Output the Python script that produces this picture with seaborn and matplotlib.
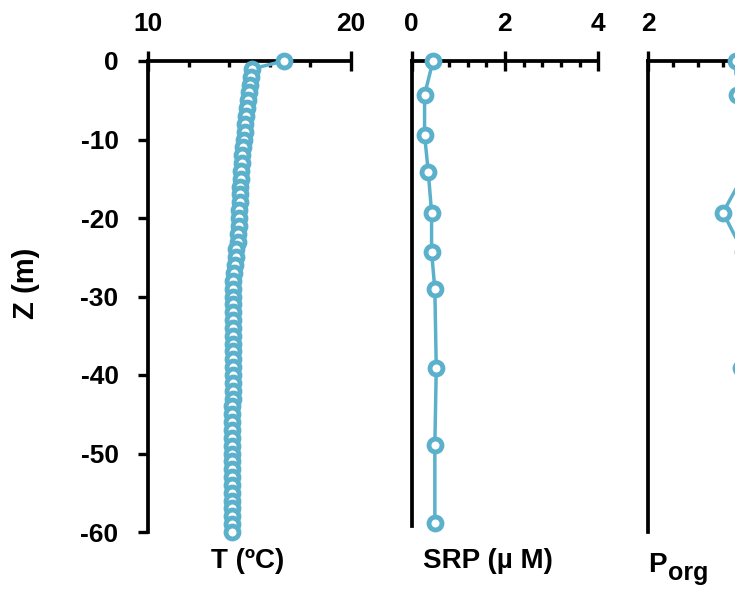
import matplotlib
matplotlib.use("Agg")
import matplotlib.pyplot as plt
import seaborn as sns
import pandas as pd
from matplotlib.ticker import MultipleLocator, FixedLocator

sns.set_style("white")
plt.rcParams["font.family"] = ["Liberation Sans", "DejaVu Sans"]
plt.rcParams["font.weight"] = "bold"
plt.rcParams["text.color"] = "black"
plt.rcParams["axes.labelcolor"] = "black"
plt.rcParams["xtick.color"] = "black"
plt.rcParams["ytick.color"] = "black"

# ---------------- data ----------------
T_depth = [0, -1, -2, -3, -4, -5, -6, -7, -8, -9, -10,
           -11, -12, -13, -14, -15, -16, -17, -18, -19, -20,
           -21, -22, -23, -24, -25, -26, -27, -28, -29, -30,
           -31, -32, -33, -34, -35, -36, -37, -38, -39, -40,
           -41, -42, -43, -44, -45, -46, -47, -48, -49, -50,
           -51, -52, -53, -54, -55, -56, -57, -58, -59, -60]
T_values = [16.70, 15.15, 15.08, 15.02, 14.97, 14.93, 14.89, 14.85, 14.81, 14.77, 14.73,
            14.69, 14.65, 14.62, 14.60, 14.58, 14.56, 14.54, 14.52, 14.51, 14.50,
            14.48, 14.46, 14.42, 14.37, 14.33, 14.30, 14.25, 14.21, 14.20, 14.20,
            14.20, 14.19, 14.19, 14.19, 14.19, 14.18, 14.18, 14.18, 14.18, 14.18,
            14.18, 14.18, 14.18, 14.17, 14.17, 14.17, 14.17, 14.17, 14.17, 14.17,
            14.17, 14.17, 14.17, 14.17, 14.17, 14.17, 14.17, 14.17, 14.17, 14.17]

SRP_depth = [0, -4.3, -9.4, -14.2, -19.3, -24.3, -29.1, -39.1, -48.9, -58.8]
SRP_values = [0.46, 0.28, 0.28, 0.36, 0.43, 0.43, 0.50, 0.53, 0.50, 0.50]

Porg_depth = [0, -4.3, -9.4, -14.2, -19.3, -24.3, -29.1, -39.1, -48.9, -58.8]
Porg_values = [3.40, 3.42, 3.60, 3.55, 3.20, 3.52, 3.65, 3.48, 3.75, 3.80]

xlabels = ["T (ºC)", "SRP (µ M)"]
porg_label = ["P", "org", "(µ M)"]
ylabel = "Z (m)"
y_ticks = [0, -10, -20, -30, -40, -50, -60]

COLOR = "#5BB1CB"
W, H = 735, 589
FS = 19
FS_LAB = 20

fig = plt.figure(figsize=(W / 100, H / 100), dpi=100)
bottom = 1 - 532 / H
height = 471 / H
ax1 = fig.add_axes([148 / W, bottom, (350.5 - 148) / W, height])
ax2 = fig.add_axes([411.5 / W, bottom, (598.3 - 411.5) / W, height])
ax3 = fig.add_axes([648 / W, bottom, 187.5 / W, height])

datasets = [
    (ax1, T_values, T_depth, (10, 20), [10, 20], 2),
    (ax2, SRP_values, SRP_depth, (0, 4), [0, 2, 4], 0.4),
    (ax3, Porg_values, Porg_depth, (2, 5), [2, 4], 0.4),
]

for ax, xv, yv, xlim, majors, minor in datasets:
    df = pd.DataFrame({"x": xv, "z": yv})
    sns.lineplot(data=df, x="x", y="z", orient="y", sort=False, estimator=None,
                 ax=ax, color=COLOR, linewidth=2.5, marker="o", markersize=9.3,
                 markerfacecolor="white", markeredgecolor=COLOR,
                 markeredgewidth=3.5, clip_on=False, zorder=5)
    ax.set_xlim(*xlim)
    ax.set_ylim(-60, 0)
    ax.xaxis.tick_top()
    ax.xaxis.set_major_locator(FixedLocator(majors))
    ax.xaxis.set_minor_locator(MultipleLocator(minor))
    ax.tick_params(axis="x", which="major", direction="inout", length=14,
                   width=2.4, pad=11, labelsize=FS, top=True, bottom=False,
                   color="black", labelcolor="black")
    ax.tick_params(axis="x", which="minor", direction="in", length=4.5,
                   width=2.4, top=True, bottom=False, color="black")
    for s in ["bottom", "right"]:
        ax.spines[s].set_visible(False)
    for s in ["top", "left"]:
        ax.spines[s].set_visible(True)
        ax.spines[s].set_linewidth(2.7)
        ax.spines[s].set_color("black")
    ax.set_xlabel("")
    ax.set_ylabel("")
    ax.grid(False)
    ax.set_facecolor("none")

# y axis on first panel
ax1.set_yticks(y_ticks)
ax1.set_yticklabels([str(v) for v in y_ticks])
ax1.tick_params(axis="y", which="major", direction="out", length=7.2, width=2.4,
                pad=14, labelsize=FS, left=True, color="black", labelcolor="black")
ax1.set_ylabel(ylabel, fontsize=21, fontweight="bold", color="black")
ax1.yaxis.set_label_coords(-0.535, 0.529)

for ax in (ax2, ax3):
    ax.tick_params(axis="y", left=False, labelleft=False)
    ax.set_yticks([])
ax2.spines["left"].set_bounds(-59.2, 0)

# x labels at the bottom
coords = [(0.491, -0.034), (0.407, -0.034)]
for ax, lab, (cx, cy) in zip((ax1, ax2), xlabels, coords):
    ax.set_xlabel(lab, fontsize=FS_LAB, fontweight="bold", color="black")
    ax.xaxis.set_label_position("bottom")
    ax.xaxis.set_label_coords(cx, cy)

# P_org label (P with a large subscript), cut by the right edge as in the original
fig.text(648 / W, 1 - 572 / H, porg_label[0], fontsize=FS_LAB, fontweight="bold",
         ha="left", va="baseline")
fig.text(668 / W, 1 - 580 / H, porg_label[1], fontsize=18, fontweight="bold",
         ha="left", va="baseline")
fig.text(740 / W, 1 - 572 / H, porg_label[2], fontsize=FS_LAB, fontweight="bold",
         ha="left", va="baseline")

fig.savefig("out.png", dpi=100)
